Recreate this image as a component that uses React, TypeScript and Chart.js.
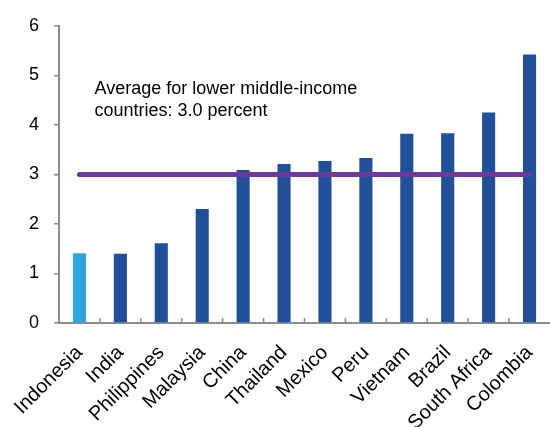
import React, { useEffect, useRef } from "react";
import { Chart, registerables } from "chart.js";

Chart.register(...registerables);

const categories = ["Indonesia", "India", "Philippines", "Malaysia", "China", "Thailand", "Mexico", "Peru", "Vietnam", "Brazil", "South Africa", "Colombia"];
const values = [1.41, 1.4, 1.61, 2.3, 3.09, 3.21, 3.27, 3.33, 3.82, 3.83, 4.25, 5.42];
const averageValue = 3.0;
const averageLabel = ["Average for lower middle-income", "countries: 3.0 percent"];
const yTicks = [0, 1, 2, 3, 4, 5, 6];

const FONT = "Arial, 'Liberation Sans', sans-serif";

const annotationPlugin = {
  id: "annotationText",
  afterDraw(chart: any) {
    const ctx = chart.ctx;
    const x = chart.scales.x;
    const y = chart.scales.y;
    ctx.save();
    // inward category ticks
    ctx.strokeStyle = "#8c8c8c";
    ctx.lineWidth = 1.5;
    const bottom = chart.chartArea.bottom;
    for (let i = 1; i < categories.length; i++) {
      const px = (x.getPixelForValue(i - 1) + x.getPixelForValue(i)) / 2;
      ctx.beginPath();
      ctx.moveTo(px, bottom);
      ctx.lineTo(px, bottom - 5);
      ctx.stroke();
    }
    // text
    ctx.fillStyle = "#000";
    ctx.font = "18px " + FONT;
    ctx.textBaseline = "alphabetic";
    ctx.textAlign = "left";
    const tx = x.getPixelForValue(0) + 15;
    const ty0 = y.getPixelForValue(4.62);
    ctx.fillText(averageLabel[0], tx, ty0);
    ctx.fillText(averageLabel[1], tx, ty0 + 22);
    ctx.restore();
  },
};

export default function App() {
  const ref = useRef<HTMLCanvasElement>(null);
  useEffect(() => {
    const barColors = categories.map((c) => (c === "Indonesia" ? "#2ca6df" : "#21509b"));
    const chart = new Chart(ref.current!, {
      type: "bar",
      data: {
        labels: categories,
        datasets: [
          {
            type: "line",
            data: categories.map(() => averageValue),
            borderColor: "#6b3b98",
            borderWidth: 5,
            borderCapStyle: "round",
            pointRadius: 0,
            order: 0,
          } as any,
          {
            type: "bar",
            data: values,
            backgroundColor: barColors,
            barPercentage: 0.32,
            categoryPercentage: 1,
            order: 1,
          },
        ],
      },
      plugins: [annotationPlugin],
      options: {
        animation: false,
        responsive: true,
        maintainAspectRatio: false,
        layout: { padding: { top: 24, right: 0, left: 0, bottom: 0 } },
        plugins: { legend: { display: false }, tooltip: { enabled: false } },
        scales: {
          x: {
            grid: { display: false, drawTicks: false },
            border: { color: "#8c8c8c", width: 2 },
            ticks: {
              color: "#000",
              font: { size: 20, family: FONT },
              minRotation: 45,
              maxRotation: 45,
              padding: 18,
              labelOffset: 0,
              autoSkip: false,
            },
            afterFit(scale: any) {
              scale.height = 104;
              scale.paddingLeft = 0;
              scale.paddingRight = 0;
            },
          },
          y: {
            min: 0,
            max: 6,
            afterBuildTicks(scale: any) {
              scale.ticks = yTicks.map((v) => ({ value: v }));
            },
            grid: { drawOnChartArea: false, tickLength: 5, color: "#8c8c8c", lineWidth: 1.5 },
            border: { color: "#8c8c8c", width: 2 },
            ticks: {
              color: "#000",
              font: { size: 18, family: FONT },
              padding: 15,
            },
            afterFit(scale: any) {
              scale.width = 59;
            },
          },
        },
      },
    });
    return () => chart.destroy();
  }, []);
  return (
    <div style={{ position: "fixed", left: 0, top: 0, width: 550, height: 427, background: "#fff" }}>
      <canvas ref={ref} />
    </div>
  );
}
